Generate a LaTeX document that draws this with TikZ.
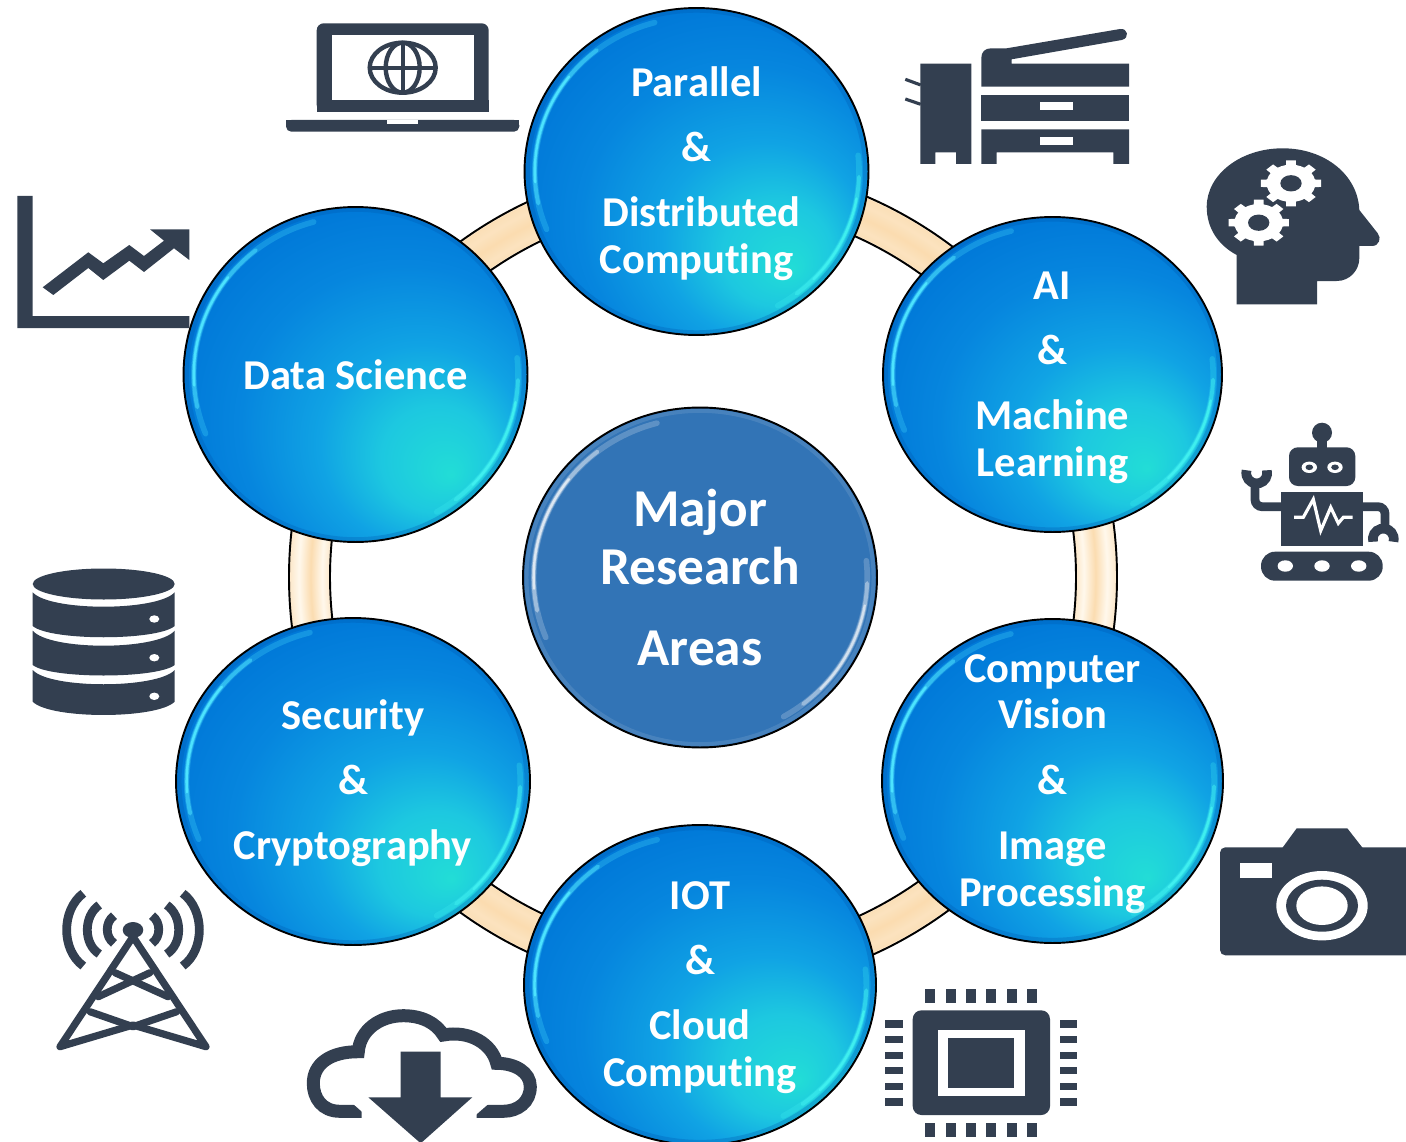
\documentclass[tikz,border=0pt]{standalone}
\usepackage{fontspec}
\setmainfont[Ligatures=NoCommon]{Carlito}
\usetikzlibrary{shapes.geometric}

\definecolor{icondark}{HTML}{333F50}
\definecolor{hubblue}{HTML}{3274B6}
\definecolor{ringpeach}{HTML}{FBDCB0}
\definecolor{ringpale}{HTML}{FFF8EC}
\definecolor{glintup}{HTML}{4EE6FF}
\definecolor{glintlow}{HTML}{40F0F0}
\definecolor{rimblue}{HTML}{005AB0}

\pgfdeclareradialshading{ringshade}{\pgfpoint{0bp}{0bp}}{color(0bp)=(ringpeach); color(22.5bp)=(ringpeach!70!white); color(23bp)=(ringpale); color(23.7bp)=(ringpeach); color(24.4bp)=(ringpale); color(25bp)=(ringpeach!70!white); color(50bp)=(ringpeach)}
\pgfdeclareradialshading{bubbleshade}{\pgfpoint{14bp}{-15bp}}{rgb(0bp)=(.133,.867,.84); rgb(8bp)=(.114,.784,.878); rgb(15bp)=(.063,.639,.894); rgb(24bp)=(.024,.525,.871); rgb(32bp)=(0,.47,.847); rgb(50bp)=(0,.47,.847)}

\tikzset{
  bubble/.style={ellipse, draw=black, line width=1.1pt, inner xsep=0pt, inner ysep=-30pt, align=center, text=white,
    font=\fontsize{24.2}{26.6}\selectfont\bfseries, shade, shading=bubbleshade},
  hub/.style={ellipse, draw=black, line width=1.1pt, inner sep=0pt, align=center, text=white,
    font=\fontsize{30.3}{33.4}\selectfont\bfseries, fill=hubblue},
  icon/.style={fill=icondark},
  iconhole/.style={fill=white},
  iconline/.style={draw=icondark, line width=5pt},
  wave/.style={draw=icondark, line width=5pt},
  mast/.style={draw=icondark, line width=4.1pt, line join=round, line cap=round},
  ringpatch/.style={draw=ringpeach, line width=21.5pt, opacity=.75},
}

% soft bright streaks on the rim of a disc
\def\glint#1#2#3#4#5#6#7{
  \begin{scope}[shift={(#1,#2)}, x=#3*0.02cm, y=-#4*0.02cm]
    \draw[#7, line width=2.2pt, opacity=.3] (0,0) circle[radius=.98];
    \draw[#5, line width=3.2pt, opacity=.25, line cap=round] (158:.94) arc[start angle=158, end angle=255, radius=.94];
    \draw[#5, line width=2.2pt, opacity=.5, line cap=round] (168:.94) arc[start angle=168, end angle=232, radius=.94];
    \draw[#5, line width=1.3pt, opacity=.95, line cap=round] (176:.94) arc[start angle=176, end angle=218, radius=.94];
    \draw[#6, line width=3.2pt, opacity=.25, line cap=round] (-6:.945) arc[start angle=-6, end angle=60, radius=.945];
    \draw[#6, line width=2.2pt, opacity=.5, line cap=round] (2:.945) arc[start angle=2, end angle=52, radius=.945];
    \draw[#6, line width=1.3pt, opacity=.95, line cap=round] (10:.945) arc[start angle=10, end angle=44, radius=.945];
  \end{scope}
}
\def\gearicon#1#2{
  \begin{scope}[shift={(#1,#2)}, x=0.61cm, y=-0.466cm]
    \fill[iconhole] (0,0) circle[radius=.8];
    \foreach \a in {0,45,...,315}
      \fill[iconhole] (\a-13:.74) -- (\a-9:1) -- (\a+9:1) -- (\a+13:.74) -- cycle;
    \fill[icon] (0,0) circle[radius=.35];
  \end{scope}
}
% raises the box of a first line, so that the lines sit a little lower in the disc
\def\topgap{\rule{0pt}{19pt}}

\begin{document}
\begin{tikzpicture}[x=0.02cm, y=-0.02cm]
\useasboundingbox (0,0) rectangle (1406,1142);

% Ring behind the discs
\path[shade, shading=ringshade, draw=black, line width=1.1pt] (703,577) circle[radius=414];
\draw[ringpatch] (703,577) ++(-82:393.5) arc[start angle=-82, end angle=-38, radius=393.5];
\draw[ringpatch] (703,577) ++(38:393.5) arc[start angle=38, end angle=82, radius=393.5];
\draw[ringpatch] (703,577) ++(98:393.5) arc[start angle=98, end angle=142, radius=393.5];
\draw[ringpatch] (703,577) ++(218:393.5) arc[start angle=218, end angle=262, radius=393.5];
\path[fill=white, draw=black, line width=1.1pt] (703,577) circle[radius=373];

% Discs
\node[hub, minimum width=7.08cm, minimum height=6.80cm] (major) at (700,577.5) {\rule{0pt}{20pt}Major\\Research\\[12.6pt]Areas};
\node[bubble, minimum width=6.88cm, minimum height=6.54cm] (parallel) at (696.5,171.5) {\topgap Parallel\\[10.5pt]\&\\[10.5pt]\hspace*{5.6pt}Distributed\\Computing};
\node[bubble, minimum width=6.78cm, minimum height=6.30cm] (ai) at (1052.5,374.5) {\topgap AI\\[10.5pt]\&\\[10.5pt]Machine\\Learning};
\node[bubble, minimum width=6.82cm, minimum height=6.48cm] (vision) at (1052.5,781) {\topgap Computer\\Vision\\[10.5pt]\&\\[10.5pt]Image\\Processing};
\node[bubble, minimum width=7.04cm, minimum height=6.40cm] (iot) at (700,985) {\topgap IOT\\[10.5pt]\&\\[10.5pt]Cloud\\Computing};
\node[bubble, minimum width=7.08cm, minimum height=6.54cm] (security) at (353,781.5) {\topgap Security\\[10.5pt]\&\\[10.5pt]Cryptography};
\node[bubble, minimum width=6.88cm, minimum height=6.70cm] (datasci) at (355.5,374.5) {Data Science};

\glint{700}{577.5}{177}{170}{white!85!hubblue}{white!80!hubblue}{white!35!hubblue}
\glint{696.5}{171.5}{172}{164}{glintup}{glintlow}{rimblue}
\glint{1052.5}{374.5}{170}{158}{glintup}{glintlow}{rimblue}
\glint{1052.5}{781}{171}{162}{glintup}{glintlow}{rimblue}
\glint{700}{985}{176}{160}{glintup}{glintlow}{rimblue}
\glint{353}{781.5}{177}{164}{glintup}{glintlow}{rimblue}
\glint{355.5}{374.5}{172}{168}{glintup}{glintlow}{rimblue}

% Laptop
\fill[icon, rounded corners=4pt] (316.7,112) -- (316.7,23.3) -- (488.7,23.3) -- (488.7,112) -- cycle;
\fill[icon] (316.7,100) rectangle (488.7,112);
\fill[iconhole] (331.7,35) rectangle (474,100.3);
\fill[icon, rounded corners=3pt] (286,120) -- (286,131.7) -- (519.3,131.7) -- (519.3,120) -- cycle;
\fill[icon] (286,120) rectangle (519.3,125);
\fill[iconhole] (387.3,120) rectangle (418,123.7);
\draw[draw=icondark, line width=2.5pt] (402.7,67.7) circle[x radius=33, y radius=25];
\draw[draw=icondark, line width=2.5pt] (402.7,67.7) circle[x radius=17, y radius=25];
\draw[draw=icondark, line width=2.3pt] (369.7,67.7) -- (435.7,67.7);
\draw[draw=icondark, line width=2.3pt] (402.7,42.7) -- (402.7,92.7);

% Printer
\fill[icon] (920.3,63.7) -- (971.3,63.7) -- (971.3,164) -- (956,164) -- (956,152.3) -- (935.3,152.3) -- (935.3,164) -- (920.3,164) -- cycle;
\draw[draw=icondark, line width=1.8pt] (905.3,79.3) -- (920.7,85);
\draw[draw=icondark, line width=1.8pt] (905.3,99) -- (920.7,104.3);
\fill[icon] (981.3,86.7) -- (981.3,58) .. controls (981.3,52) and (985,48.3) .. (991,48.3) -- (1006.7,48.3) -- (1120,29) .. controls (1128,28) and (1130,38) .. (1121.7,40) -- (1011.7,59.3) -- (1011.7,63.7) -- (1129,63.7) -- (1129,86.7) -- cycle;
\fill[icon] (981.3,95) rectangle (1129,121.3);
\fill[iconhole] (1039.7,102.3) rectangle (1073,110);
\fill[icon] (981.3,129.3) -- (1129,129.3) -- (1129,164) -- (1113.3,164) -- (1113.3,152.3) -- (996.7,152.3) -- (996.7,164) -- (981.3,164) -- cycle;
\fill[iconhole] (1039.7,137.3) rectangle (1073,145);

% Head with gears
\fill[icon] (1282.7,148.3) .. controls (1240,148.3) and (1206.7,175) .. (1206.7,206.7) .. controls (1206.7,228) and (1218,245) .. (1236.7,255) -- (1236.7,304.3) -- (1317,304.3) -- (1317,281) -- (1336.7,281) .. controls (1350,281) and (1359.3,270) .. (1359.3,258.3) -- (1359.3,246) -- (1372,246) .. controls (1379,246) and (1382,238) .. (1377.5,233) -- (1359.3,210) .. controls (1358,175) and (1325,148.3) .. (1282.7,148.3) -- cycle;
\gearicon{1291}{183.3}
\gearicon{1258.7}{222.7}

% Robot
\fill[icon] (1322,432.7) circle[radius=10];
\fill[icon] (1317.3,435) rectangle (1326.7,450);
\fill[icon, rounded corners=5pt] (1289,447.3) rectangle (1355.3,486);
\fill[iconhole] (1309.3,467.3) circle[x radius=7.7, y radius=5.7];
\fill[iconhole] (1335,467.3) circle[x radius=7.7, y radius=5.7];
\fill[icon] (1309.3,467.3) circle[x radius=3.8, y radius=2.8];
\fill[icon] (1335,467.3) circle[x radius=3.8, y radius=2.8];
\fill[icon] (1281.3,492) rectangle (1362.7,545.7);
\draw[draw=white, line width=1.8pt, line join=miter] (1294,517.3) -- (1303.3,517.3) -- (1313.3,499.3) -- (1320.7,530.7) -- (1330.7,507.3) -- (1338.3,523.3) -- (1343.3,517.3) -- (1352.7,517.3);
\draw[iconline, rounded corners=4pt] (1285,506.7) -- (1255,506.7) -- (1255,485);
\draw[iconline, line width=5.5pt] (1256.7,473) ++(-15:10.5) arc[start angle=-15, end angle=195, radius=10.5];
\draw[iconline, rounded corners=4pt] (1360,506.7) -- (1385,506.7) -- (1385,530);
\draw[iconline, line width=5.5pt] (1383.3,539) ++(165:10.5) arc[start angle=165, end angle=375, radius=10.5];
\fill[icon, rounded corners=8pt] (1261,551.7) rectangle (1382.7,580.7);
\fill[iconhole] (1285.3,566) circle[x radius=7.7, y radius=5.7];
\fill[iconhole] (1322,566) circle[x radius=7.7, y radius=5.7];
\fill[iconhole] (1358.7,566) circle[x radius=7.7, y radius=5.7];

% Camera
\fill[icon, rounded corners=3pt] (1220,847.3) rectangle (1420,955.3);
\fill[icon] (1282.3,848) -- (1296.7,828.3) -- (1347.3,828.3) -- (1362.7,848) -- cycle;
\fill[iconhole] (1240.3,862.7) rectangle (1271.7,878.3);
\fill[iconhole] (1322,905.7) circle[x radius=45.7, y radius=34.7];
\fill[icon] (1322,905.7) circle[x radius=36, y radius=26];
\fill[iconhole] (1322,905.7) circle[x radius=25.7, y radius=19.3];

% Chip
\fill[icon, rounded corners=5pt] (912.7,1010.3) rectangle (1050,1115);
\fill[iconhole] (938.3,1030) rectangle (1024.7,1095.7);
\fill[icon] (948.3,1037.7) rectangle (1014.3,1088.3);
\foreach \i in {0,...,5} {
  \fill[icon] (925.3+20.3*\i,989.3) rectangle +(10,14);
  \fill[icon] (925.3+20.3*\i,1123) rectangle +(10,14.3);
  \fill[icon] (885.3,1020.3+15.6*\i) rectangle +(17.7,7.3);
  \fill[icon] (1060,1020.3+15.6*\i) rectangle +(17.3,7.3);
}

% Cloud with arrow
\draw[draw=icondark, line width=7.4pt] (361.7,1111.3) -- (340,1111.3) .. controls (322,1111.3) and (313.3,1098) .. (313.3,1083.3) .. controls (313.3,1064) and (330,1051.7) .. (358.3,1051.7) .. controls (360,1030) and (380,1015.7) .. (403.3,1015.7) .. controls (422,1015.7) and (436,1023) .. (443.3,1035) .. controls (470,1030) and (492,1044) .. (496.7,1063.3) .. controls (515,1063.3) and (530.3,1072) .. (530.3,1086.7) .. controls (530.3,1102) and (518,1111.3) .. (503.3,1111.3) -- (476.7,1111.3);
\fill[iconhole] (345,1096.7) -- (373.3,1121.7) -- (468,1121.7) -- (496.7,1096.7) -- cycle;
\fill[icon] (400.7,1051.7) -- (440.7,1051.7) -- (440.7,1097.3) -- (472.3,1097.3) -- (420.7,1143.3) -- (368.3,1097.3) -- (400.7,1097.3) -- cycle;

% Antenna tower
\fill[icon] (133,930) circle[x radius=10.3, y radius=8];
\draw[wave] (83.3,893.3) .. controls (61.1,910) and (61.1,950) .. (83.3,966);
\draw[wave] (99.3,905) .. controls (83.3,916) and (83.3,944) .. (99.3,954);
\draw[wave] (114,915.7) .. controls (105,922) and (105,937) .. (114,943.3);
\draw[wave] (182.7,893.3) .. controls (204.9,910) and (204.9,950) .. (182.7,966);
\draw[wave] (166.7,905) .. controls (182.7,916) and (182.7,944) .. (166.7,954);
\draw[wave] (152,915.7) .. controls (161,922) and (161,937) .. (152,943.3);
\draw[mast] (60,1046.7) -- (133,936.7) -- (206,1046.7) -- (133,1025) -- cycle;
\draw[mast] (90,1011.7) -- (133,1026.7) -- (176.7,1011.7);
\draw[mast] (98.3,996.7) -- (150,972.7);
\draw[mast] (168,996.7) -- (115,972.7);

% Chart
\fill[icon] (17.3,196) -- (32.7,196) -- (32.7,316) -- (189.3,316) -- (189.3,328) -- (17.3,328) -- cycle;
\fill[icon] (42.7,287.3) -- (88.3,252.3) -- (103.3,263.3) -- (129.3,245) -- (144,256) -- (164,240.7) -- (150,229.3) -- (189.3,229.3) -- (189.3,260) -- (174,248.3) -- (144,272) -- (129.3,260.7) -- (103.3,280) -- (88.3,268) -- (53.3,295) -- cycle;

% Database
\fill[icon] (103.7,584) circle[x radius=71, y radius=15.5];
\fill[icon] (32.7,592.3) .. controls (50,611.5) and (157,611.5) .. (174.7,592.3) -- (174.7,626) .. controls (157,641) and (50,641) .. (32.7,626) -- cycle;
\fill[icon] (32.7,630.7) .. controls (50,650.7) and (157,650.7) .. (174.7,630.7) -- (174.7,665) .. controls (157,679) and (50,679) .. (32.7,665) -- cycle;
\fill[icon] (32.7,670) .. controls (50,689) and (157,689) .. (174.7,670) -- (174.7,701.7) .. controls (157,719.4) and (50,719.4) .. (32.7,701.7) -- cycle;
\fill[iconhole] (154.3,619) circle[x radius=5, y radius=3.7];
\fill[iconhole] (154.3,657.7) circle[x radius=5, y radius=3.7];
\fill[iconhole] (154.3,696.3) circle[x radius=5, y radius=3.7];
\end{tikzpicture}
\end{document}
